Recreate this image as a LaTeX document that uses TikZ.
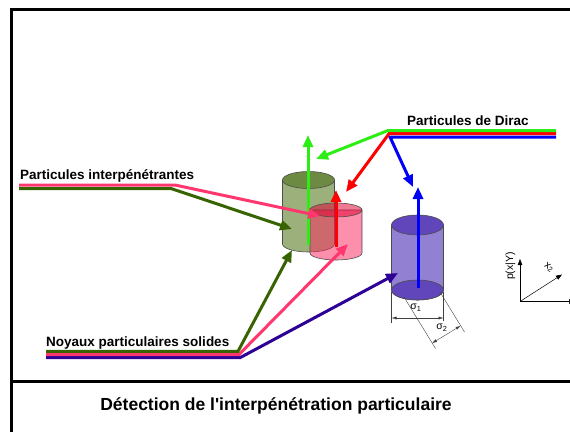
\documentclass[tikz,border=0pt]{standalone}
\usepackage{fontspec}
\setmainfont{Liberation Sans}
\usetikzlibrary{arrows.meta, positioning}

\definecolor{diracG}{RGB}{45,238,20}
\definecolor{diracR}{RGB}{255,0,0}
\definecolor{diracB}{RGB}{0,0,250}
\definecolor{solG}{RGB}{55,100,0}
\definecolor{solP}{RGB}{255,55,110}
\definecolor{solB}{RGB}{45,0,150}
\definecolor{cylG}{RGB}{156,176,124}
\definecolor{cylGtop}{RGB}{108,138,66}
\definecolor{cylP}{RGB}{250,40,95}
\definecolor{cylPtop}{RGB}{225,0,50}
\definecolor{cylB}{RGB}{146,128,210}
\definecolor{cylBtop}{RGB}{96,70,186}

\begin{document}
\begin{tikzpicture}[x=1pt, y=-1pt,
    beam/.style={line width=3pt},
    arr/.style={beam, -{Triangle[length=12pt,width=10pt]}},
    cyl/.style={draw=black!70, line width=0.6pt},
    dim/.style={draw=black!75, line width=0.4pt},
    axis/.style={line width=0.5pt, -{Triangle[length=6pt,width=4.5pt]}},
    label/.style={font=\fontsize{13.5}{16}\selectfont\bfseries, anchor=base west, inner sep=0pt},
    small/.style={font=\fontsize{10.5}{12}\selectfont, inner sep=0pt}]
    \useasboundingbox (0,0) rectangle (570,432);

    % frame
    \draw[line width=3.5pt] (11.5,432) -- (11.5,9.5) -- (570,9.5);
    \draw[line width=3pt] (11.5,381.7) -- (570,381.7);
    \node (title) [font=\fontsize{17.5}{20}\selectfont\bfseries, anchor=base] at (276,410) {Détection de l\textquotesingle interpénétration particulaire};

    % cylinders
    \filldraw[cyl, fill=cylG] (282.5,180) -- (282.5,244) arc[start angle=180, end angle=360, x radius=26pt, y radius=8pt] -- (334.5,180) -- cycle;
    \filldraw[cyl, fill=cylGtop] (308.5,180) ellipse [x radius=26pt, y radius=8.5pt];
    \filldraw[cyl, fill=cylP, fill opacity=0.52] (310,210) -- (310,253) arc[start angle=180, end angle=360, x radius=26pt, y radius=7pt] -- (362,210) -- cycle;
    \filldraw[cyl, fill=cylPtop, fill opacity=0.52] (336,210) ellipse [x radius=26pt, y radius=7pt];
    \filldraw[cyl, fill=cylB] (391.5,225) -- (391.5,290) arc[start angle=180, end angle=360, x radius=26pt, y radius=10pt] -- (443.5,225) -- cycle;
    \filldraw[cyl, fill=cylBtop] (417.5,290) ellipse [x radius=26pt, y radius=10pt];
    \filldraw[cyl, fill=cylBtop] (417.5,225) ellipse [x radius=26pt, y radius=10pt];

    % dimensions
    \coordinate (s1a) at (391.5,318);
    \coordinate (s1b) at (443.5,318);
    \coordinate (s2a) at (432,343.2);
    \coordinate (s2b) at (460.6,325.8);
    \draw[dim] (391.5,292) -- (391.5,323);
    \draw[dim] (443.5,292) -- (443.5,321);
    \draw[dim] (404,297) -- (435.5,348.5);
    \draw[dim] (440,292) -- (464.5,332);
    \draw[dim, {Latex[length=5pt,width=3pt]}-{Latex[length=5pt,width=3pt]}] (s1a) -- (s1b);
    \draw[dim, {Latex[length=5pt,width=3pt]}-{Latex[length=5pt,width=3pt]}] (s2a) -- (s2b);
    \node[small] (sig1) at (416,308) {σ\textsubscript{1}};
    \node[small] (sig2) at (442,328) {σ\textsubscript{2}};

    % axes
    \coordinate (o) at (520,301.5);
    \coordinate (py) at (520,259);
    \coordinate (px) at (575,301.5);
    \coordinate (pz) at (562,274.5);
    \draw[axis] (o) -- (py);
    \draw[axis] (o) -- (px);
    \draw[axis] (o) -- (pz);
    \node[small, rotate=90] (pxy) at (510.5,266) {p(x|Y)};
    \node[small, rotate=-35] (x2) at (549,267.5) {x\textsubscript{2}};

    % Dirac particles
    \coordinate (dG) at (388,130.5);
    \coordinate (dR) at (389,133.7);
    \coordinate (dB) at (390,137);
    \coordinate (tG) at (316,159);
    \coordinate (tR) at (346,192);
    \coordinate (tB) at (413,187);
    \draw[arr, diracB] (556,137) -- (dB) -- (tB);
    \draw[arr, diracR] (556,133.7) -- (dR) -- (tR);
    \draw[arr, diracG] (556,130.5) -- (dG) -- (tG);
    \draw[arr, diracG] (308,245) -- (308,135);
    \draw[arr, diracR] (336,247) -- (336,190);
    \draw[arr, diracB] (418,288) -- (418,187);

    % interpenetrating particles
    \coordinate (iP) at (175,185);
    \coordinate (iG) at (171,188.5);
    \draw[arr, solG] (19,188.5) -- (iG) -- (292,229);
    \draw[arr, solP] (19,185) -- (iP) -- (320,216);

    % solid cores
    \coordinate (nG) at (238,351.3);
    \coordinate (nP) at (239,354.5);
    \coordinate (nB) at (240,357.7);
    \draw[arr, solB] (46,357.7) -- (nB) -- (398,273);
    \draw[arr, solP] (46,354.5) -- (nP) -- (348,244);
    \draw[arr, solG] (46,351.3) -- (nG) -- (292,250);

    \node[label] (dirac) at (407,125) {Particules de Dirac};
    \node[label] (interp) at (20,179.5) {Particules interpénétrantes};
    \node[label] (noyaux) at (46,346) {Noyaux particulaires solides};
\end{tikzpicture}
\end{document}
